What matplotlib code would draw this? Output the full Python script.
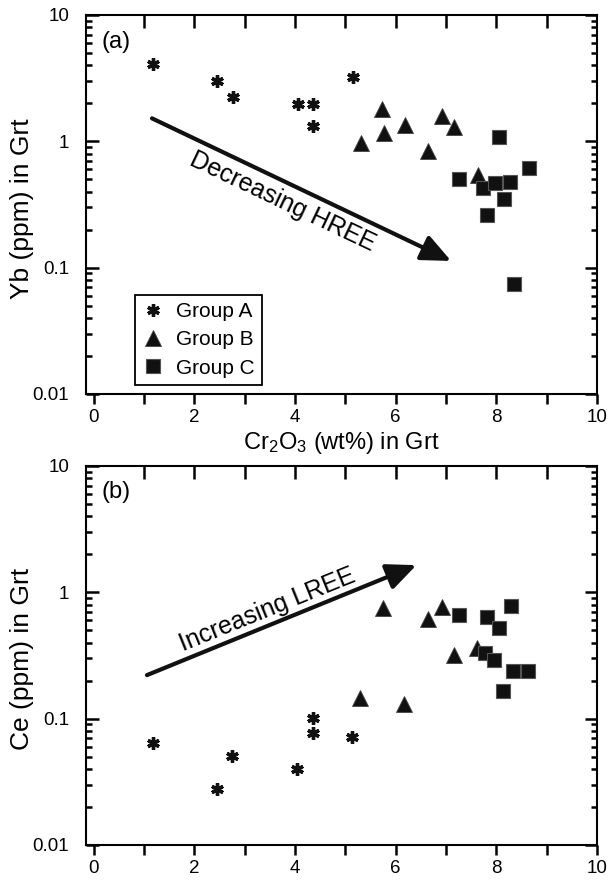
import numpy as np
import matplotlib
matplotlib.use('Agg')
import matplotlib.pyplot as plt
from matplotlib.ticker import FixedLocator, NullFormatter, LogLocator

plt.rcParams.update({
    'font.family': ['Liberation Sans', 'DejaVu Sans'],
    'mathtext.default': 'regular',
    'axes.linewidth': 1.5,
})

# ---- Garnet data: Cr2O3 (wt%) vs Yb and Ce (ppm) ----
# Group A
a_cr_yb = [1.18, 2.46, 2.77, 4.05, 4.36, 4.36, 5.15]
a_yb = [4.1, 3.0, 2.26, 1.97, 1.97, 1.33, 3.2]
a_cr_ce = [1.18, 2.46, 2.74, 4.03, 4.35, 4.35, 5.13]
a_ce = [0.064, 0.0275, 0.051, 0.040, 0.102, 0.077, 0.071]

# Group B
b_cr_yb = [5.31, 5.72, 5.77, 6.18, 6.91, 7.16, 6.65, 7.63]
b_yb = [0.975, 1.79, 1.16, 1.35, 1.60, 1.29, 0.84, 0.54]
b_cr_ce = [5.29, 5.74, 6.17, 6.65, 6.91, 7.16, 7.61]
b_ce = [0.145, 0.755, 0.13, 0.615, 0.77, 0.32, 0.36]

# Group C
c_cr_yb = [8.06, 7.26, 7.73, 7.98, 8.27, 8.65, 8.15, 7.82, 8.35]
c_yb = [1.08, 0.506, 0.427, 0.464, 0.477, 0.61, 0.35, 0.26, 0.074]
c_cr_ce = [7.26, 7.81, 8.06, 8.28, 7.78, 7.96, 8.33, 8.63, 8.12]
c_ce = [0.66, 0.64, 0.52, 0.78, 0.33, 0.29, 0.237, 0.24, 0.164]

# trend arrows (start, end) in data coordinates
hree_arrow = [(1.16, 1.52), (7.1, 0.113)]
lree_arrow = [(1.06, 0.221), (6.41, 1.64)]

y_ticks = [0.01, 0.1, 1, 10]
y_tick_labels = ['0.01', '0.1', '1', '10']
x_ticks = [0, 2, 4, 6, 8, 10]
x_top_ticks = [1, 2, 3, 4, 5, 6, 7, 8, 9]
x_lim = (-0.15, 10)

fig = plt.figure(figsize=(6.1, 8.81), dpi=100)
ax1 = fig.add_axes([0.141, 0.5528, 0.838, 0.4302])
ax2 = fig.add_axes([0.141, 0.0409, 0.838, 0.4302])

star = (6, 2, 0)


def style_axes(ax):
    ax.set_yscale('log')
    ax.set_ylim(0.01, 10)
    ax.set_xlim(*x_lim)
    ax.yaxis.set_major_locator(FixedLocator(y_ticks))
    ax.set_yticklabels(y_tick_labels)
    ax.yaxis.set_minor_locator(LogLocator(base=10, subs=np.arange(2, 10)))
    ax.yaxis.set_minor_formatter(NullFormatter())
    ax.tick_params(axis='y', which='both', direction='in', left=True, right=True,
                   width=1.8, color='black', labelsize=13.5, pad=12)
    ax.tick_params(axis='y', which='major', length=9)
    ax.tick_params(axis='y', which='minor', length=4.6)
    ax.set_xticks(x_ticks)
    ax.set_xticks(np.arange(1, 10, 2), minor=True)
    ax.tick_params(axis='x', which='both', direction='out', bottom=True, top=False,
                   length=7.5, width=1.8, color='black', labelsize=13.5, pad=3)
    # short inward ticks hanging from the top frame
    for xt in x_top_ticks:
        ax.plot([xt, xt], [1.0, 0.966], transform=ax.get_xaxis_transform(),
                color='black', lw=1.8, solid_capstyle='butt', clip_on=False,
                zorder=3)


def scatter_groups(ax, ax_, ay, bx, by, cx, cy):
    ax.plot(ax_, ay, linestyle='none', marker=star, ms=9, mew=2.4,
            color='#111111', label='Group A')
    ax.plot(bx, by, linestyle='none', marker='^', ms=11.5, color='#111111',
            mec='#444444', mew=0.6, label='Group B')
    ax.plot(cx, cy, linestyle='none', marker='s', ms=10, color='#111111',
            mec='#555555', mew=0.8, label='Group C')


def trend_arrow(ax, arrow):
    (x0, y0), (x1, y1) = arrow
    ax.annotate('', xy=(x1, y1), xytext=(x0, y0),
                arrowprops=dict(arrowstyle='-|>,head_length=0.45,head_width=0.2',
                                mutation_scale=40, lw=3, color='#111111',
                                shrinkA=0, shrinkB=0))


# ---- (a) Yb ----
style_axes(ax1)
scatter_groups(ax1, a_cr_yb, a_yb, b_cr_yb, b_yb, c_cr_yb, c_yb)
trend_arrow(ax1, hree_arrow)
ax1.text(3.76, 0.336, 'Decreasing HREE', rotation=-25.4, rotation_mode='anchor',
         ha='center', va='center', fontsize=18)
ax1.text(0.03, 0.93, '(a)', transform=ax1.transAxes, fontsize=17,
         ha='left', va='center')
ax1.text(-0.125, 0.49, 'Yb (ppm) in Grt', transform=ax1.transAxes, rotation=90,
         ha='center', va='center', fontsize=19)
ax1.set_xlabel('Cr$_2$O$_3$ (wt%) in Grt', fontsize=17, labelpad=3)
handles, labels = ax1.get_legend_handles_labels()
leg = ax1.legend(handles[-3:], labels[-3:], loc='lower left',
                 bbox_to_anchor=(0.096, 0.024), fontsize=15,
                 frameon=True, fancybox=False, edgecolor='black', framealpha=1,
                 handlelength=1.0, handletextpad=0.6, labelspacing=0.45,
                 borderpad=0.35, borderaxespad=0)
leg.get_frame().set_linewidth(1.3)

# ---- (b) Ce ----
style_axes(ax2)
scatter_groups(ax2, a_cr_ce, a_ce, b_cr_ce, b_ce, c_cr_ce, c_ce)
trend_arrow(ax2, lree_arrow)
ax2.text(3.45, 0.724, 'Increasing LREE', rotation=22, rotation_mode='anchor',
         ha='center', va='center', fontsize=18)
ax2.text(0.03, 0.93, '(b)', transform=ax2.transAxes, fontsize=17,
         ha='left', va='center')
ax2.text(-0.125, 0.49, 'Ce (ppm) in Grt', transform=ax2.transAxes, rotation=90,
         ha='center', va='center', fontsize=19)

fig.savefig('out.png', dpi=100)
